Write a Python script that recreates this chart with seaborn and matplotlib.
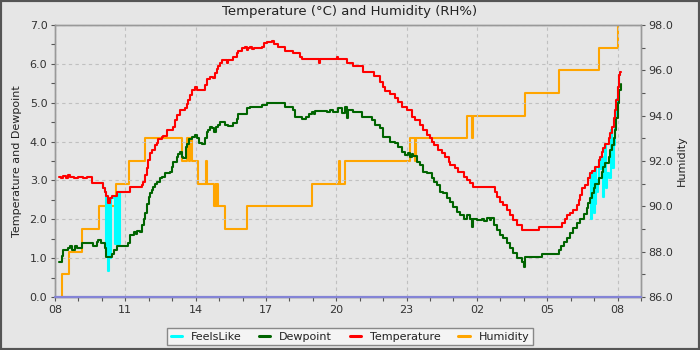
import numpy as np
import matplotlib
matplotlib.use("Agg")
import matplotlib.pyplot as plt
import seaborn as sns
from matplotlib.ticker import MultipleLocator, FuncFormatter, FixedLocator
from matplotlib.lines import Line2D
from matplotlib.patches import Rectangle

# Hours elapsed since 08:00 on the first day
START_HOUR = 8

temp_hours = [0.17, 0.25, 0.35, 0.45, 0.55, 0.62, 0.80, 1.00, 1.20, 1.35, 1.57, 2.06, 2.12, 2.18,
              2.24, 2.28, 2.35, 2.45, 2.63, 3.20, 3.70, 3.77, 3.84, 3.91, 3.98, 4.05, 4.13, 4.27,
              4.34, 4.41, 4.55, 4.62, 4.77, 5.05, 5.12, 5.19, 5.34, 5.55, 5.62, 5.69, 5.76, 5.83,
              5.98, 6.05, 6.40, 6.47, 6.62, 6.76, 6.83, 6.90, 6.97, 7.04, 7.11, 7.33, 7.40, 7.61,
              7.75, 7.82, 7.97, 8.11, 8.18, 8.25, 8.32, 8.40, 8.50, 8.82, 8.92, 9.04, 9.25, 9.35,
              9.53, 9.82, 10.17, 10.46, 10.55, 11.27, 11.31, 12.03, 12.08, 12.45, 12.73, 13.16,
              13.59, 13.87, 14.01, 14.08, 14.30, 14.51, 14.65, 14.80, 15.01, 15.22, 15.36, 15.58,
              15.72, 15.86, 16.00, 16.08, 16.15, 16.36, 16.50, 16.65, 16.79, 16.86, 17.07, 17.21,
              17.43, 17.57, 17.71, 17.85, 18.78, 18.85, 18.99, 19.13, 19.28, 19.42, 19.56, 19.70,
              19.92, 20.63, 21.63, 21.77, 21.84, 21.98, 22.12, 22.27, 22.34, 22.41, 22.48, 22.62,
              22.76, 22.83, 22.91, 23.05, 23.19, 23.26, 23.33, 23.40, 23.47, 23.62, 23.69, 23.76,
              23.83, 23.90, 23.94, 24.00, 24.07, 24.11, 24.13]
temp_values = [3.10, 3.05, 3.12, 3.05, 3.15, 3.08, 3.05, 3.08, 3.05, 3.08, 2.93, 2.80, 2.70, 2.60,
               2.50, 2.41, 2.54, 2.60, 2.71, 2.82, 2.88, 2.97, 3.14, 3.31, 3.53, 3.70, 3.78, 3.91,
               3.97, 4.06, 4.11, 4.14, 4.31, 4.37, 4.55, 4.68, 4.81, 4.86, 4.97, 5.07, 5.20, 5.33,
               5.40, 5.33, 5.46, 5.60, 5.67, 5.63, 5.76, 5.86, 5.94, 6.01, 6.10, 6.03, 6.10, 6.18,
               6.27, 6.34, 6.40, 6.44, 6.36, 6.40, 6.44, 6.38, 6.40, 6.44, 6.53, 6.57, 6.58, 6.51,
               6.43, 6.34, 6.29, 6.17, 6.12, 6.02, 6.12, 6.18, 6.12, 6.01, 5.94, 5.80,
               5.70, 5.54, 5.41, 5.31, 5.22, 5.11, 5.03, 4.90, 4.81, 4.62, 4.55, 4.43,
               4.30, 4.17, 4.08, 4.00, 3.91, 3.78, 3.70, 3.61, 3.48, 3.40, 3.31, 3.22,
               3.10, 3.01, 2.93, 2.82, 2.71, 2.58, 2.45, 2.37, 2.24, 2.11, 1.98, 1.85,
               1.72, 1.81, 1.90, 2.00, 2.11, 2.15, 2.24, 2.37, 2.50, 2.62, 2.80, 2.88,
               3.05, 3.18, 3.24, 3.35, 3.53, 3.61, 3.74, 3.83, 3.95, 4.08, 4.21, 4.38,
               4.60, 4.81, 5.07, 5.41, 5.71, 5.78, 5.78]

dew_hours = [0.18, 0.28, 0.35, 0.57, 0.65, 0.72, 0.85, 0.95, 1.14, 1.61, 1.80, 1.85, 1.95, 2.06,
             2.15, 2.18, 2.42, 2.52, 2.63, 3.13, 3.20, 3.35, 3.45, 3.50, 3.63, 3.70, 3.78, 3.84,
             3.92, 4.00, 4.05, 4.13, 4.20, 4.27, 4.34, 4.48, 4.55, 4.69, 4.91, 4.98, 5.05, 5.19,
             5.26, 5.34, 5.41, 5.48, 5.59, 5.65, 5.73, 5.83, 5.98, 6.05, 6.16, 6.26, 6.40, 6.47,
             6.54, 6.62, 6.69, 6.79, 6.87, 6.97, 7.04, 7.26, 7.40, 7.61, 7.75, 7.82, 8.18, 8.32,
             8.82, 9.04, 9.46, 9.82, 10.17, 10.24, 10.53, 10.70, 10.85, 10.96, 11.05, 11.10,
             11.60, 11.75, 11.85, 12.09, 12.24, 12.38, 12.45, 12.52, 12.73, 13.09, 13.52, 13.66,
             13.87, 14.01, 14.30, 14.51, 14.65, 14.80, 14.94, 15.08, 15.15, 15.22, 15.29, 15.44,
             15.58, 15.72, 15.86, 16.08, 16.15, 16.29, 16.43, 16.57, 16.72, 16.86, 17.00, 17.14,
             17.29, 17.43, 17.57, 17.71, 17.80, 17.84, 18.00, 18.20, 18.30, 18.45, 18.55, 18.62,
             18.71, 18.85, 18.99, 19.13, 19.28, 19.42, 19.56, 19.70, 19.92, 20.00, 20.06, 20.77,
             21.52, 21.58, 21.70, 21.84, 21.98, 22.12, 22.27, 22.41, 22.55, 22.69, 22.76, 22.83,
             22.91, 22.98, 23.05, 23.19, 23.33, 23.40, 23.47, 23.62, 23.69, 23.76, 23.83, 23.90,
             23.94, 24.00, 24.07, 24.14, 24.16]
dew_values = [0.91, 1.05, 1.21, 1.25, 1.32, 1.22, 1.30, 1.25, 1.40, 1.31, 1.42, 1.47, 1.40, 1.38,
              1.25, 1.04, 1.11, 1.22, 1.31, 1.38, 1.60, 1.68, 1.62, 1.70, 1.68, 1.85, 2.00, 2.15,
              2.40, 2.58, 2.67, 2.75, 2.84, 2.91, 2.97, 3.05, 3.10, 3.18, 3.22, 3.35, 3.48, 3.61,
              3.68, 3.74, 3.61, 3.59, 3.87, 3.95, 4.06, 4.11, 4.17, 4.08, 3.97, 3.95, 4.08, 4.25,
              4.31, 4.38, 4.34, 4.25, 4.37, 4.43, 4.51, 4.43, 4.40, 4.47, 4.57, 4.71, 4.86, 4.88,
              4.94, 5.00, 4.98, 4.90, 4.81, 4.62, 4.58, 4.62, 4.72, 4.77, 4.72, 4.78,
              4.77, 4.81, 4.77, 4.86, 4.73, 4.90, 4.60, 4.81, 4.77, 4.64, 4.55, 4.43,
              4.34, 4.13, 4.00, 3.96, 3.87, 3.74, 3.65, 3.71, 3.61, 3.68, 3.63, 3.48,
              3.40, 3.22, 3.18, 3.05, 2.97, 2.88, 2.71, 2.67, 2.54, 2.45, 2.32, 2.20,
              2.11, 2.02, 2.11, 2.02, 1.81, 2.00, 1.98, 2.02, 1.96, 2.04, 1.97, 2.03,
              1.85, 1.72, 1.60, 1.51, 1.38, 1.25, 1.12, 1.00, 0.91, 0.78, 1.02, 1.11,
              1.20, 1.32, 1.42, 1.52, 1.64, 1.77, 1.90, 2.02, 2.14, 2.28, 2.41, 2.54,
              2.67, 2.80, 2.91, 3.05, 3.22, 3.35, 3.44, 3.61, 3.78, 3.91, 4.08, 4.30,
              4.60, 4.98, 5.33, 5.48, 5.48]

# Feels-like readings where it parts from the air temperature (wind chill)
feels_morning_hours = [1.90, 2.06, 2.12, 2.17, 2.23, 2.25, 2.29, 2.33, 2.37, 2.55, 2.63, 2.69,
                       2.77, 3.00]
feels_morning_values = [2.93, 2.80, 2.70, 1.15, 2.50, 0.68, 2.45, 1.00, 2.54, 1.36, 2.66, 1.36,
                        2.71, 2.71]
feels_next_hours = [22.76, 22.83, 22.86, 22.92, 22.96, 22.99, 23.05, 23.08, 23.10, 23.15, 23.19,
                    23.26, 23.33, 23.37, 23.44, 23.47, 23.50, 23.56, 23.62, 23.70, 23.74, 23.77,
                    23.84, 23.88, 23.92, 23.96, 24.00, 24.07, 24.11, 24.12]
feels_next_values = [3.05, 3.18, 2.00, 2.45, 3.20, 2.15, 2.40, 3.35, 2.71, 3.00, 3.53,
                     3.30, 3.60, 2.58, 3.00, 3.90, 2.80, 3.20, 3.05, 3.45, 4.30, 3.31,
                     3.90, 4.60, 4.90, 5.10, 5.41, 5.71, 5.78, 5.78]

hum_hours = [0.25, 0.28, 0.60, 1.14, 1.89, 2.59, 3.16, 3.84, 5.42, 5.63, 5.70, 5.75, 5.83, 6.10,
             6.44, 6.47, 6.79, 6.85, 6.88, 6.93, 6.96, 7.26, 8.19, 10.97, 12.12, 12.15, 12.38,
             15.15, 15.36, 15.40, 17.58, 17.80, 17.85, 20.06, 21.51, 23.22, 24.03, 24.05]
hum_values = [86, 87, 88, 89, 90, 91, 92, 93, 92, 93, 92, 93, 92, 91,
              92, 91, 90, 91, 90, 91, 90, 89, 90, 91, 92, 91, 92,
              93, 92, 93, 94, 93, 94, 95, 96, 97, 98, 98]

x_tick_hours = [0, 3, 6, 9, 12, 15, 18, 21, 24]

BG = "#e6e6e6"
C_FEELS, C_DEW, C_TEMP, C_HUM = "#00ffff", "#006400", "#ff0000", "#ffa500"
LW = 1.5

sns.set_theme(style="white")
plt.rcParams["font.family"] = ["DejaVu Sans"]

fig = plt.figure(figsize=(7, 3.5), dpi=100, facecolor=BG)
ax = fig.add_axes([55 / 700, 1 - 297 / 350, (641 - 55) / 700, (297 - 25) / 350])
ax2 = ax.twinx()
# primary series drawn above the humidity axis
ax.set_zorder(2)
ax2.set_zorder(1)
ax.patch.set_visible(False)
ax2.patch.set_visible(True)
ax2.patch.set_facecolor(BG)

step = dict(drawstyle="steps-post", lw=LW, estimator=None, legend=False)
sns.lineplot(x=hum_hours, y=hum_values, ax=ax2, color=C_HUM, **step)
sns.lineplot(x=feels_morning_hours, y=feels_morning_values, ax=ax, color=C_FEELS, **step)
sns.lineplot(x=feels_next_hours, y=feels_next_values, ax=ax, color=C_FEELS, **step)
sns.lineplot(x=dew_hours, y=dew_values, ax=ax, color=C_DEW, **step)
sns.lineplot(x=temp_hours, y=temp_values, ax=ax, color=C_TEMP, **step)
ax.axhline(0, color="#8484d6", lw=1.6, zorder=5, clip_on=False)

ax.set_xlim(0, 25)
ax.set_ylim(0, 7)
ax2.set_ylim(86, 98)

ax.xaxis.set_major_locator(FixedLocator(x_tick_hours))
ax.xaxis.set_minor_locator(MultipleLocator(1))
ax.xaxis.set_major_formatter(FuncFormatter(lambda h, _: f"{(START_HOUR + int(round(h))) % 24:02d}"))
ax.yaxis.set_major_locator(MultipleLocator(1))
ax.yaxis.set_minor_locator(MultipleLocator(0.5))
ax.yaxis.set_major_formatter(FuncFormatter(lambda v, _: f"{v:.1f}"))
ax2.yaxis.set_major_locator(MultipleLocator(2))
ax2.yaxis.set_minor_locator(MultipleLocator(1))
ax2.yaxis.set_major_formatter(FuncFormatter(lambda v, _: f"{v:.1f}"))

for a in (ax, ax2):
    a.tick_params(which="both", direction="out", length=3, width=0.8, color="#555555",
                  labelsize=8, labelcolor="#333333", pad=2.5)
    a.set_xlabel("")
    a.set_ylabel("")
    for s in a.spines.values():
        s.set_color("#999999")
        s.set_linewidth(1.0)
ax.tick_params(axis="y", which="both", left=True, right=False)
ax.tick_params(axis="x", which="both", bottom=True)
ax2.tick_params(axis="y", which="both", right=True, left=False)

ax.grid(True, which="major", color="#c0c0c0", linestyle=(0, (3, 3)), lw=0.8)

fig.text(350 / 700, 1 - 12 / 350, "Temperature (°C) and Humidity (RH%)", ha="center",
         va="center", fontsize=9.5, color="#222222")
fig.text(17 / 700, 1 - 161 / 350, "Temperature and Dewpoint", rotation=90, ha="center",
         va="center", fontsize=8, color="#222222")
fig.text(682 / 700, 1 - 161 / 350, "Humidity", rotation=90, ha="center", va="center",
         fontsize=8, color="#222222")

handles = [Line2D([], [], color=c, lw=2.2) for c in (C_FEELS, C_DEW, C_TEMP, C_HUM)]
labels = ["FeelsLike", "Dewpoint", "Temperature", "Humidity"]
leg = fig.legend(handles, labels, loc="center", bbox_to_anchor=(350 / 700, 1 - 336.5 / 350),
                 ncol=4, fontsize=8, frameon=True, fancybox=False, edgecolor="#888888",
                 facecolor="#f4f4f4", framealpha=1, handlelength=1.0, handletextpad=0.8,
                 columnspacing=1.6, borderpad=0.35)
leg.get_frame().set_linewidth(1.0)
for t in leg.get_texts():
    t.set_color("#222222")

fig.patches.append(Rectangle((0, 0), 1, 1, transform=fig.transFigure, fill=False,
                             edgecolor="#555555", lw=3, zorder=10))

fig.savefig("out.png", dpi=100, facecolor=BG)
